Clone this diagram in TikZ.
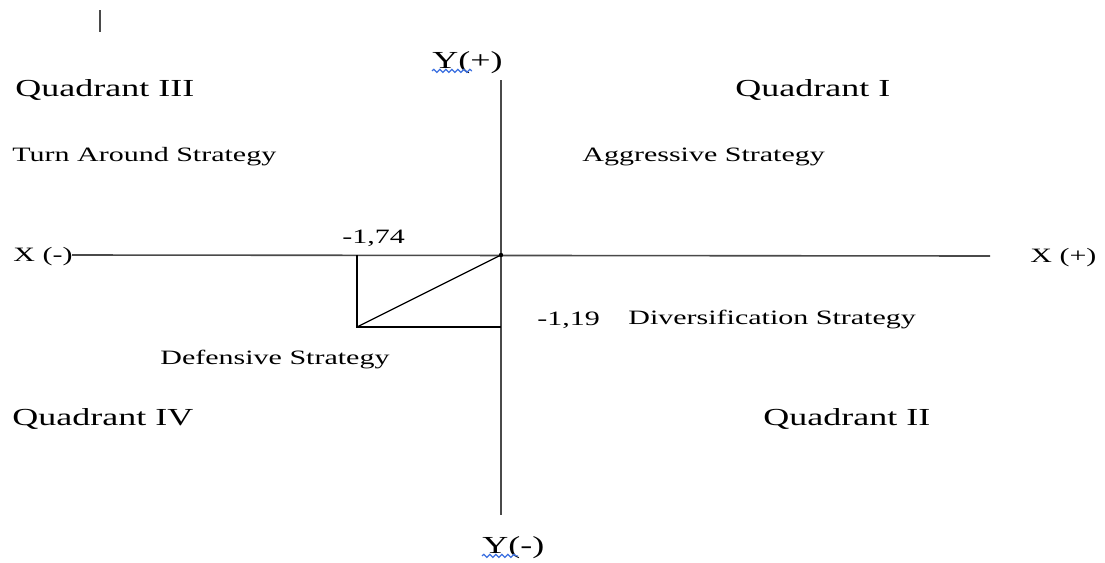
\documentclass[tikz,border=0pt]{standalone}
\usepackage{fontspec}
\setmainfont{Liberation Serif}
\usepackage{graphicx}
\usetikzlibrary{decorations.pathmorphing}
\definecolor{axGray}{HTML}{4A4A4A}
\definecolor{spBlue}{HTML}{3B6FE0}
\newcommand{\sqz}[1]{\scalebox{1}[0.68]{#1}}

\begin{document}
\begin{tikzpicture}[x=0.5pt, y=-0.5pt,
  axis/.style={axGray, line width=1.1pt},
  box/.style={black, line width=0.8pt},
  quad/.style={font=\fontsize{18}{20}\selectfont, anchor=west, inner sep=0pt},
  lbl/.style={font=\fontsize{15}{17}\selectfont, anchor=west, inner sep=0pt},
  wavy/.style={spBlue, line width=0.6pt, decorate, decoration={snake, amplitude=0.8pt, segment length=3pt}}]
\useasboundingbox (0,0) rectangle (1105,563);

% axes
\coordinate (o) at (501,255);
\coordinate (ytop) at (501,80);
\coordinate (ybot) at (501,515);
\coordinate (xleft) at (72,255);
\coordinate (xright) at (990,256);
\draw[axis] (ytop) -- (ybot);
\draw[axis, line width=0.8pt] (xleft) -- (xright);
\fill[black] (o) circle (2.2);

% point (-1,74 ; -1,19)
\coordinate (pt) at (357,327);
\coordinate (px) at (357,255);
\coordinate (py) at (501,327);
\draw[box] (px) -- (pt) -- (py);
\draw[box, line width=0.6pt] (pt) -- (o);

% axis labels
\node[quad] (yp) at (432,63) {\sqz{Y(+)}};
\node[quad] (ym) at (482,548) {\sqz{Y(-)}};
\node[lbl] (xm) at (13,257) {\sqz{X (-)}};
\node[lbl] (xp) at (1030,258) {\sqz{X (+)}};
\draw[wavy] ([yshift=-1pt]yp.base west) -- ++(40,0);
\draw[wavy] ([yshift=-1pt]ym.base west) -- ++(36,0);

% values
\node[lbl] (vx) at (342,238) {\sqz{-1,74}};
\node[lbl] (vy) at (537,320) {\sqz{-1,19}};

% quadrants
\node[quad] (q3) at (15,90) {\sqz{Quadrant III}};
\node[quad] (q1) at (735,90) {\sqz{Quadrant I}};
\node[quad] (q4) at (12,419) {\sqz{Quadrant IV}};
\node[quad] (q2) at (763,419) {\sqz{Quadrant II}};

% strategies
\node[lbl] (s3) at (12,157) {\sqz{Turn Around Strategy}};
\node[lbl] (s1) at (582,157) {\sqz{Aggressive Strategy}};
\node[lbl] (s2) at (628,320) {\sqz{Diversification Strategy}};
\node[lbl] (s4) at (160,360) {\sqz{Defensive Strategy}};

% text cursor
\coordinate (ca) at (100,10);
\coordinate (cb) at (100,32);
\draw[axGray, line width=1pt] (ca) -- (cb);
\end{tikzpicture}
\end{document}
